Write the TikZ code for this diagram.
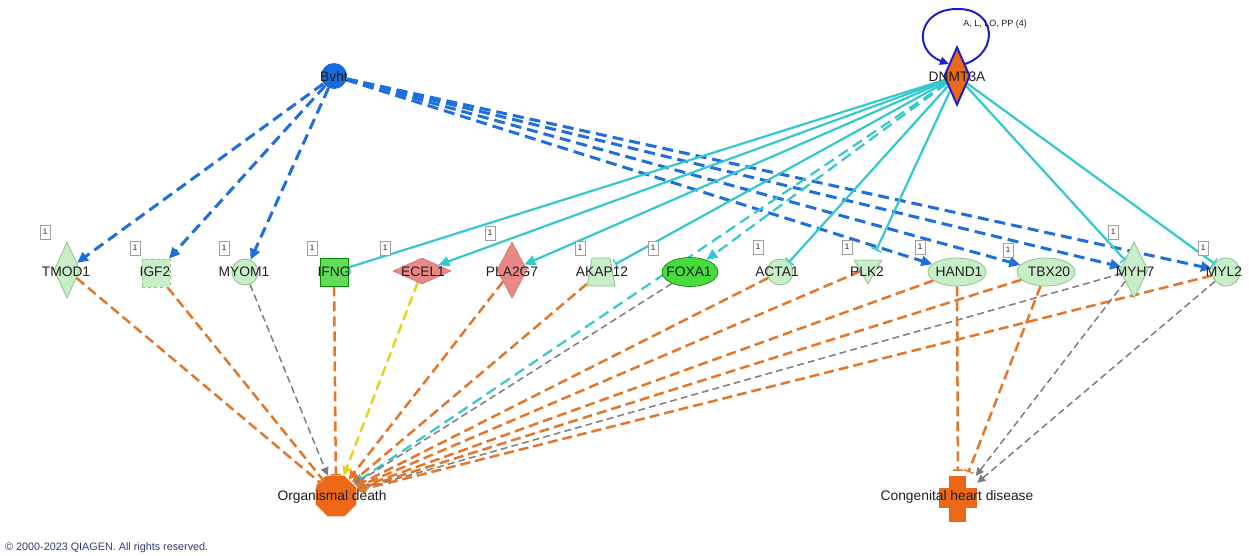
\documentclass[tikz,border=0pt]{standalone}
\usepackage{fontspec}
\setmainfont{Liberation Sans}
\usetikzlibrary{shapes.geometric,arrows.meta,backgrounds}
\definecolor{bluec}{RGB}{30,110,220}
\definecolor{bvhtc}{RGB}{25,105,225}
\definecolor{cyanc}{RGB}{50,200,205}
\definecolor{orc}{RGB}{228,118,40}
\definecolor{ofill}{RGB}{236,104,22}
\definecolor{grc}{RGB}{125,125,125}
\definecolor{yelc}{RGB}{232,210,30}
\definecolor{lgfill}{RGB}{200,238,200}
\definecolor{lgdraw}{RGB}{140,195,140}
\definecolor{ifngc}{RGB}{100,220,90}
\definecolor{foxac}{RGB}{70,220,60}
\definecolor{salm}{RGB}{234,136,136}
\definecolor{salmd}{RGB}{200,110,110}
\definecolor{dnb}{RGB}{30,30,200}
\definecolor{txt}{RGB}{30,30,30}
\definecolor{copyc}{RGB}{50,60,120}
\begin{document}
\begin{tikzpicture}[x=1pt,y=-1pt,
  lab/.style={font=\fontsize{13.8}{15}\selectfont, text=txt, inner sep=0pt, text depth=0pt},
  onebox/.style={draw=gray!75, fill=white, line width=0.6pt, minimum width=10pt, minimum height=14pt, inner sep=0pt, font=\fontsize{8}{9}\selectfont, text=txt},
  lgreen/.style={fill=lgfill, draw=lgdraw, line width=0.8pt, inner sep=0pt},
  bl/.style={draw=bluec, line width=3pt, dash pattern=on 11pt off 6pt, -{Triangle[length=11pt,width=10pt]}},
  cy/.style={draw=cyanc, line width=2.2pt},
  cyarr/.style={cy, -{Triangle[length=11pt,width=10pt]}},
  cybar/.style={cy, -{Bar[width=11pt,line width=1.4pt]}},
  cydash/.style={cyarr, dash pattern=on 11pt off 6pt},
  orline/.style={draw=orc, line width=2.5pt, dash pattern=on 10pt off 5pt},
  orarr/.style={orline, -{Triangle[length=9pt,width=9pt]}},
  orbar/.style={orline, -{Bar[width=10pt,line width=1.4pt]}},
  grarr/.style={draw=grc, line width=1.5pt, dash pattern=on 7pt off 4pt, -{Triangle[length=8pt,width=8pt]}},
  yelarr/.style={draw=yelc, line width=2.5pt, dash pattern=on 10pt off 5pt, -{Triangle[length=9pt,width=9pt]}}
]
\useasboundingbox (0,0) rectangle (1249,555);

% top nodes
\node[circle, fill=bvhtc, minimum size=26pt, inner sep=0pt] (bvht) at (334,76) {};
\node[diamond, fill=ofill, draw=dnb, line width=2pt, minimum width=26pt, minimum height=58pt, inner sep=0pt] (dn) at (957,76) {};

% row nodes
\node[diamond, lgreen, minimum width=26pt, minimum height=56pt] (tmod1) at (67,270) {};
\node[rectangle, lgreen, dashed, minimum size=28pt] (igf2) at (156,273) {};
\node[circle, lgreen, minimum size=26pt] (myom1) at (245,272) {};
\node[rectangle, fill=ifngc, draw=green!55!black, line width=0.6pt, inner sep=0pt, minimum size=28pt] (ifng) at (334,272) {};
\node[diamond, fill=salm, draw=salmd, line width=0.6pt, inner sep=0pt, minimum width=58pt, minimum height=26pt] (ecel1) at (422,271) {};
\node[diamond, fill=salm, draw=salmd, line width=0.6pt, inner sep=0pt, minimum width=30pt, minimum height=56pt] (pla2g7) at (512,270) {};
\node[rectangle, inner sep=0pt, minimum width=28pt, minimum height=28pt] (akap12) at (601,272) {};
\filldraw[lgreen] (587,286) -- (615,286) -- (610,258) -- (592,258) -- cycle;
\node[ellipse, fill=foxac, draw=green!50!black, line width=0.6pt, inner sep=0pt, minimum width=56pt, minimum height=29pt] (foxa1) at (690,272) {};
\node[circle, lgreen, minimum size=26pt] (acta1) at (780,272) {};
\node[regular polygon, regular polygon sides=3, shape border rotate=180, lgreen, minimum size=32pt] (plk2) at (868,268) {};
\node[ellipse, lgreen, minimum width=58pt, minimum height=28pt] (hand1) at (957,272) {};
\node[ellipse, lgreen, minimum width=58pt, minimum height=28pt] (tbx20) at (1046,272) {};
\node[diamond, lgreen, minimum width=28pt, minimum height=56pt] (myh7) at (1134,270) {};
\node[circle, lgreen, minimum size=28pt] (myl2) at (1226,272) {};

% bottom nodes
\node[regular polygon, regular polygon sides=8, fill=ofill, inner sep=0pt, minimum size=44pt] (od) at (336,496) {};
\node[rectangle, minimum width=38pt, minimum height=46pt, inner sep=0pt] (chd) at (958,499) {};
\fill[ofill] (949,476) rectangle (966,522);
\fill[ofill] (939,488) rectangle (977,508);

% edges
\begin{scope}[on background layer]
  % Bvht
  \draw[bl] (bvht) -- (tmod1);
  \draw[bl] (bvht) -- (igf2);
  \draw[bl] (bvht) -- (myom1);
  \draw[bl] (bvht) -- (hand1);
  \draw[bl] (bvht) -- (tbx20);
  \draw[bl] (bvht) -- (myh7);
  \draw[bl] (bvht) -- (myl2);
  % DNMT3A
  \draw[cybar] (dn) -- (ifng);
  \draw[cyarr] (dn) -- (ecel1);
  \draw[cyarr] (dn) -- (pla2g7);
  \draw[cybar] (dn) -- (akap12);
  \draw[cydash] (dn) -- (foxa1);
  \draw[cybar] (dn) -- (acta1);
  \draw[cybar, shorten >=10pt] (dn) -- (plk2);
  \draw[cybar] (dn) -- (myh7);
  \draw[cybar] (dn) -- (myl2);
  \draw[cydash] (dn) -- (od);
  % to Organismal death
  \draw[orbar] (tmod1) -- (od);
  \draw[orbar] (igf2) -- (od);
  \draw[grarr] (myom1) -- (od);
  \draw[orbar] (ifng) -- (od);
  \draw[yelarr] (ecel1) -- (od);
  \draw[orarr] (pla2g7) -- (od);
  \draw[orarr] (akap12) -- (od);
  \draw[grarr] (foxa1) -- (od);
  \draw[orarr] (acta1) -- (od);
  \draw[orarr] (plk2) -- (od);
  \draw[orarr] (hand1) -- (od);
  \draw[orarr] (tbx20) -- (od);
  \draw[grarr] (myh7) -- (od);
  \draw[orarr] (myl2) -- (od);
  % to Congenital heart disease
  \draw[orbar, shorten >=5pt] (hand1) -- (chd);
  \draw[orbar, shorten >=4pt] (tbx20) -- (chd);
  \draw[grarr] (myh7) -- (chd);
  \draw[grarr] (myl2) -- (chd);
\end{scope}

% self loop on DNMT3A
\coordinate (lpa) at (965,64);
\coordinate (lpb) at (949,64);
\draw[draw=dnb, line width=2pt, -{Triangle[length=9pt,width=8pt]}] (lpa) .. controls (1000,52) and (996,8) .. (957,9) .. controls (918,9) and (912,50) .. (lpb);
\node[font=\fontsize{9}{10}\selectfont, text=txt, inner sep=0pt] (lpl) at (995,24) {A, L, LO, PP (4)};

% labels
\node[lab] (bvhtl) at (334,76) {Bvht};
\node[lab] (dnl) at (957,77) {DNMT3A};
\node[lab] (tmod1l) at (66,272) {TMOD1};
\node[lab] (igf2l) at (155,272) {IGF2};
\node[lab] (myom1l) at (244,272) {MYOM1};
\node[lab] (ifngl) at (334,272) {IFNG};
\node[lab] (ecel1l) at (423,272) {ECEL1};
\node[lab] (pla2g7l) at (512,272) {PLA2G7};
\node[lab] (akap12l) at (602,272) {AKAP12};
\node[lab] (foxa1l) at (689,272) {FOXA1};
\node[lab] (acta1l) at (777,272) {ACTA1};
\node[lab] (plk2l) at (867,272) {PLK2};
\node[lab] (hand1l) at (959,272) {HAND1};
\node[lab] (tbx20l) at (1049,272) {TBX20};
\node[lab] (myh7l) at (1135,272) {MYH7};
\node[lab] (myl2l) at (1224,272) {MYL2};
\node[lab] (odl) at (332,495) {Organismal death};
\node[lab] (chdl) at (957,495) {Congenital heart disease};

% count boxes
\node[onebox] (b1) at (45,232) {1};
\node[onebox] (b2) at (135,248) {1};
\node[onebox] (b3) at (224,248) {1};
\node[onebox] (b4) at (312,248) {1};
\node[onebox] (b5) at (385,248) {1};
\node[onebox] (b6) at (490,233) {1};
\node[onebox] (b7) at (580,248) {1};
\node[onebox] (b8) at (653,248) {1};
\node[onebox] (b9) at (758,247) {1};
\node[onebox] (b10) at (847,247) {1};
\node[onebox] (b11) at (920,247) {1};
\node[onebox] (b12) at (1008,250) {1};
\node[onebox] (b13) at (1113,232) {1};
\node[onebox] (b14) at (1203,248) {1};

% copyright
\node[anchor=west, font=\fontsize{10.8}{12}\selectfont, text=copyc, inner sep=0pt] (copy) at (5,548) {© 2000-2023 QIAGEN. All rights reserved.};
\end{tikzpicture}
\end{document}
